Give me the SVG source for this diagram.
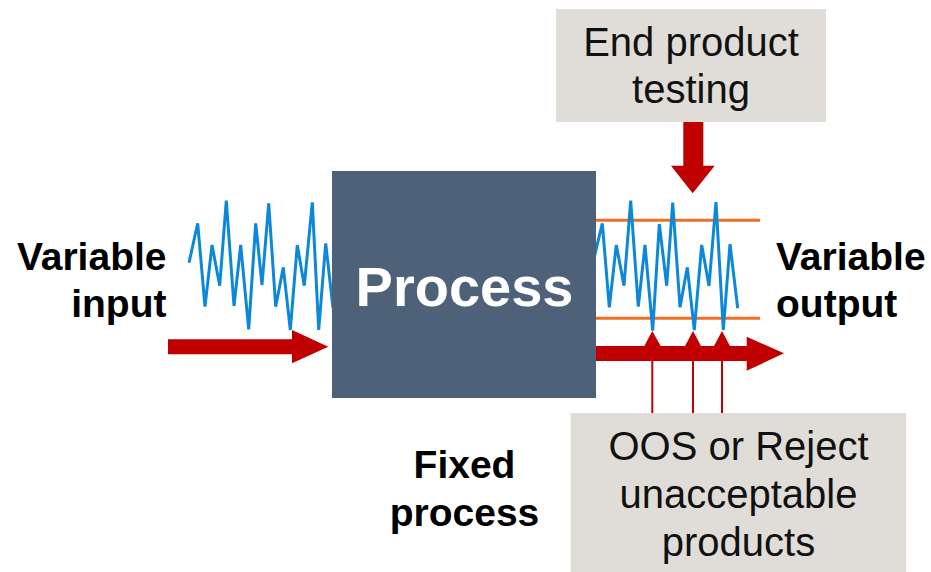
<svg xmlns="http://www.w3.org/2000/svg" width="931" height="572" viewBox="0 0 931 572">
<style>
.bold{font-family:"Liberation Sans",Arial,sans-serif;font-weight:bold;fill:#000}
.reg{font-family:"Liberation Sans",Arial,sans-serif;fill:#111}
.zig{fill:none;stroke:#0D88D8;stroke-width:3;stroke-linejoin:miter}
.lim{stroke:#EE6F22;stroke-width:3}
.red{fill:#C00000}
.gray{fill:#E0DDD8}
</style>
<rect width="931" height="572" fill="#fff"/>
<g id="signals">
<polyline class="zig" points="189,262.7 197.7,223.3 205,306.7 212,245 219.7,285.7 226.3,200.7 234,306 240.7,245 248.7,329.3 255.7,223.3 262,285 268.7,203.3 275.7,306.7 283.3,267.3 290.3,330 297.3,245 304.3,285.7 312.3,202.3 318.7,330 325.7,243.3 333,308"/>
<line class="lim" x1="590" y1="220.3" x2="760" y2="220.3"/>
<line class="lim" x1="590" y1="318.3" x2="760" y2="318.3"/>
<polyline class="zig" points="590,275 602.3,223.3 609.3,307.3 616.3,245 624,285.7 630.7,200.7 638.3,306.7 645,245 652.7,330.7 659.3,224 666.7,285.7 672.7,202.7 680,307.3 687.3,267.3 694.3,330 701.7,245 709,286 716,202 723.3,330 730,244 737.7,308.3"/>
</g>
<g id="connectors">
<polygon class="red" points="168,339.3 292,339.3 292,330 328.3,346.7 292,363.3 292,354.3 168,354.3"/>
<polygon class="red" points="596,346 746.7,346 746.7,336.7 784,353.3 746.7,370.7 746.7,361 596,361"/>
<polygon class="red" points="644.3,346 652.3,331 660.7,346"/>
<polygon class="red" points="685,346 693,331 701,346"/>
<polygon class="red" points="714,346 722,331 730,346"/>
<g stroke="#C00000" stroke-width="2">
<line x1="652.3" y1="361" x2="652.3" y2="414"/>
<line x1="693" y1="361" x2="693" y2="414"/>
<line x1="722" y1="361" x2="722" y2="414"/>
</g>
<polygon class="red" points="683.3,121 703.3,121 703.3,165.7 714.7,165.7 692.7,193.3 671,165.7 683.3,165.7"/>
</g>
<g id="process">
<rect x="332" y="171" width="264" height="227" fill="#4D6179"/>
<text x="464.5" y="306" font-size="56" text-anchor="middle" class="bold" style="fill:#fff">Process</text>
</g>
<g id="end-product-testing">
<rect class="gray" x="556" y="9" width="270" height="113"/>
<text class="reg" font-size="40" text-anchor="middle"><tspan x="691" y="56">End product</tspan><tspan x="691" y="103">testing</tspan></text>
</g>
<g id="oos-reject">
<rect class="gray" x="570.7" y="413" width="335.5" height="159"/>
<text class="reg" font-size="40" text-anchor="middle"><tspan x="738.5" y="460">OOS or Reject</tspan><tspan x="738.5" y="508">unacceptable</tspan><tspan x="738.5" y="556">products</tspan></text>
</g>
<g id="variable-input">
<text class="bold" font-size="39" text-anchor="end"><tspan x="166.5" y="270">Variable</tspan><tspan x="166.5" y="317">input</tspan></text>
</g>
<g id="variable-output">
<text class="bold" font-size="39" text-anchor="start"><tspan x="776" y="270">Variable</tspan><tspan x="776" y="317">output</tspan></text>
</g>
<g id="fixed-process">
<text class="bold" font-size="39" text-anchor="middle"><tspan x="464.5" y="478">Fixed</tspan><tspan x="464.5" y="526">process</tspan></text>
</g>
</svg>
